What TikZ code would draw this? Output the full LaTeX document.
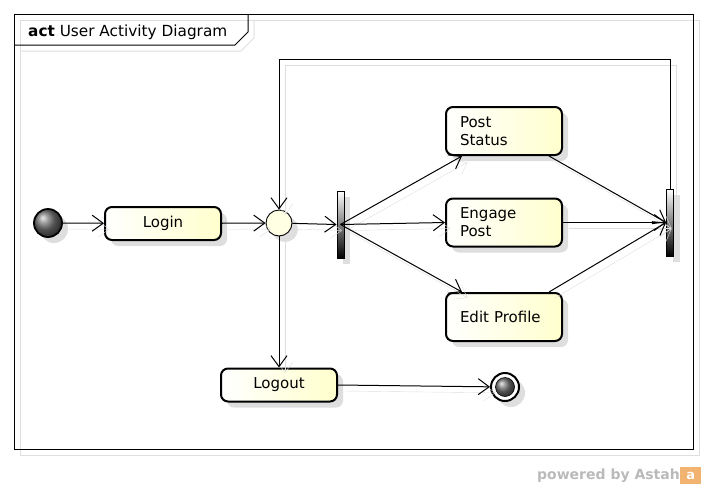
\documentclass[tikz,border=0pt]{standalone}
\usepackage{fontspec}
\setmainfont{DejaVu Sans}
\usetikzlibrary{arrows.meta,shadows}
\definecolor{actyellow}{RGB}{255,255,205}
\definecolor{mergeyellow}{RGB}{255,255,228}
\definecolor{shadowgray}{RGB}{222,222,222}
\definecolor{astahorange}{RGB}{242,178,112}

\begin{document}
\begin{tikzpicture}[x=1pt,y=-1pt,
  nodeshadow/.style={drop shadow={shadow xshift=6pt,shadow yshift=-6pt,fill=shadowgray,opacity=1}},
  action/.style={draw=black,line width=2pt,rounded corners=7pt,minimum width=116pt,
    text width=88pt,inner xsep=14pt,inner ysep=0pt,left color=white,right color=actyellow,
    nodeshadow,font=\fontsize{15}{18}\selectfont},
  bar/.style={draw=black,line width=0.9pt,minimum width=7pt,minimum height=67pt,inner sep=0pt,
    top color=white,bottom color=black,nodeshadow},
  flow/.style={line width=1pt,-{Straight Barb[length=11pt,width=16pt]},
    preaction={draw=shadowgray,transform canvas={shift={(6pt,-6pt)}}}},
]
\useasboundingbox (0,0) rectangle (706,488);

%%Frame
\draw[shadowgray,line width=1pt] (20,20) rectangle (699,455);
\draw[shadowgray,line width=1pt] (20,51) -- (241,51) -- (254,38) -- (254,20);
\draw[line width=1pt] (14,14) rectangle (693,449);
\draw[line width=1pt] (14,45) -- (235,45) -- (248,32) -- (248,14);
\node[anchor=base west,inner sep=0pt,font=\fontsize{15.3}{18}\selectfont] (title) at (28,36) {\textbf{act} User Activity Diagram};

%%Nodes
\node[circle,minimum size=28pt,inner sep=0pt,draw=black,line width=1.8pt,ball color=black!55,nodeshadow] (start) at (48,223) {};
\node[action,align=center,minimum height=33pt] (login) at (163,223.5) {Login};
\node[circle,minimum size=26pt,inner sep=0pt,draw=black,line width=0.9pt,fill=mergeyellow,nodeshadow] (merge) at (279,223) {};
\node[bar] (fork) at (340.5,224.5) {};
\node[action,align=left,minimum height=48pt] (post) at (504,131) {Post\\Status};
\node[action,align=left,minimum height=48pt] (engage) at (504,222.5) {Engage\\Post};
\node[action,align=left,minimum height=48pt] (edit) at (504,317) {Edit Profile};
\node[bar] (join) at (670,222.5) {};
\node[action,align=center,minimum height=33pt] (logout) at (279,385) {Logout};
\node[circle,minimum size=28pt,inner sep=0pt,draw=black,line width=2pt,fill=white,nodeshadow] (stop) at (505,387) {};
\node[circle,minimum size=19pt,inner sep=0pt,draw=black,line width=0.6pt,ball color=black!55] (stopdot) at (stop) {};

%%Connectors
\draw[flow] (start) -- (login);
\draw[flow] (login) -- (merge);
\draw[flow] (merge) -- (fork.west);
\draw[flow] (fork.center) -- ([xshift=17pt]post.south west);
\draw[flow] (fork.center) -- (engage.west);
\draw[flow] (fork.center) -- ([xshift=17pt]edit.north west);
\draw[flow] ([xshift=-14pt]post.south east) -- (join.west);
\draw[flow] (engage.east) -- (join.west);
\draw[flow] ([xshift=-14pt]edit.north east) -- (join.west);
\draw[flow] (join.north) -- ++(0,-129) -| (merge.north); %%Loop back
\draw[flow] (merge.south) -- (logout.north);
\draw[flow] (logout.east) -- (stop);

%%Footer
\node[anchor=base east,inner sep=0pt,text=black!27,font=\bfseries\fontsize{14}{14}\selectfont] (powered) at (680,479) {powered by Astah};
\node[anchor=west,minimum width=21pt,minimum height=17pt,inner sep=0pt,fill=astahorange,text=white,font=\bfseries\fontsize{13}{13}\selectfont] (logo) at (powered.east |- 0,475.5) {a};
\end{tikzpicture}
\end{document}
